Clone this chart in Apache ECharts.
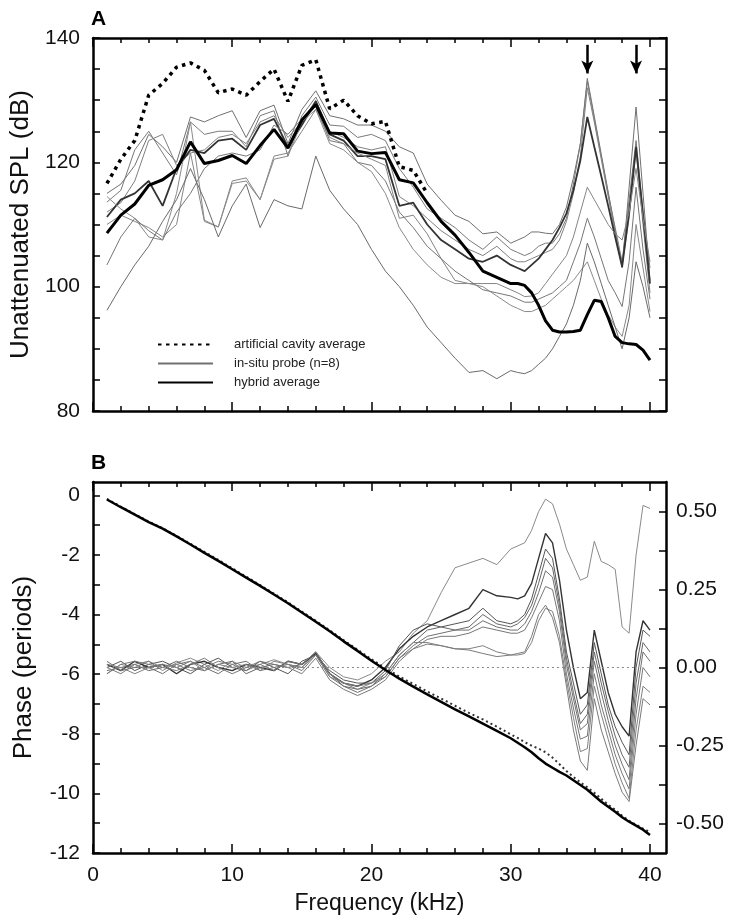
<!DOCTYPE html>
<html><head><meta charset="utf-8">
<script src="https://cdn.jsdelivr.net/npm/echarts@6/dist/echarts.min.js"></script>
<style>html,body{margin:0;padding:0;background:#fff}#c{width:731px;height:922px}</style>
</head><body><div id="c"></div>
<script>
// ---- frequency grid (kHz) ----
const freqKHz = [1,2,3,4,5,6,7,8,9,10,11,12,13,14,15,16,17,18,19,20,21,22,23,24,25,26,27,28,29,30,
  30.5,31,31.5,32,32.5,33,33.5,34,34.5,35,35.5,36,36.5,37,37.5,38,38.5,39,39.5,40];

// ---- Panel A: unattenuated SPL (dB) ----
const cavityAvgSPL = [116.6,120.5,123.5,130.8,132.7,135.3,136.0,134.8,131.2,131.8,130.8,133.0,135.0,129.8,135.6,136.5,128.6,130.0,127.5,126.2,126.6,119.3,118.7,115.0];
const hybridAvgSPL = [108.6,111.5,113.3,116.3,117.2,118.8,123.3,119.8,120.3,121.1,119.8,122.7,125.3,122.3,126.8,129.3,124.7,124.6,121.8,121.4,121.6,117.2,116.7,113.5,110.5,108.3,105.5,102.5,101.5,100.5,
  100.5,100.2,99.0,97.0,94.5,93.0,92.7,92.7,92.8,93.0,95.5,97.8,97.6,95.0,92.0,91.0,90.8,90.7,89.8,88.2];
const probe1SPL = [115,116.5,119.5,124.5,122.5,120,127.3,126.5,127.5,128.3,124,128.3,129.2,123,128.5,131.5,127.5,127,126,126,125,122.5,121.5,116.5,113.9,111.5,110.5,108.5,108.8,107,
  107.5,108.0,108.8,108.8,108.6,108.5,110.0,112.8,117.5,123.0,133.5,127.4,121.3,115.2,109.0,103.0,116.0,128.9,115.0,101.0];
const probe2SPL = [113.6,115.5,122,125,121.5,118,126.5,124.5,125,125,122.5,127.5,128.3,121,127.5,130.5,126,125.8,124,124.5,123.5,119,116,112.5,111,109.5,107.5,106,108,106,
  105.5,105,105.5,106.5,107,107,108.5,111,116.5,123,133,127,121,115,109.5,104,114,123.5,112,103];
const probe3SPL = [112,113.5,117,123.5,124.5,119.5,121.5,122,124,124.5,123,126.5,127.5,124,126.5,130,125,124,122.5,122,122.5,114.5,113,111,109,107.5,106,105,106.5,104.5,
  104,104,104.5,105,105.5,106,107.5,110.5,115,121,132,126.5,120.5,114.5,108.5,103.5,111,122,110,99];
const probe4SPL = [111.2,114,115,117,113,119,122,121.5,123.5,123.8,122,126,127,122.5,126,129.8,124.5,123.5,121,121,120.5,113,113.5,110,107.5,106,104.5,104,105,103.5,
  103,102.5,103.5,104.5,106,107.5,109.5,111.8,115.5,120.3,127.3,122.5,117.8,113,108,103.2,112,122.5,111.5,100.5];
const probe5SPL = [110,111.5,110.5,109.5,108,110,121.5,110.5,109.6,117,117.5,114,121,121.5,125,128.5,124,123,121.5,120.5,119.5,111,111.5,108.5,104.5,101,100.5,100.5,100.5,99.5,
  99,98.4,98.5,99,100.5,102,103.5,105,108,112,116,114,112,110,108.5,107.5,112,119,111,104];
const probe6SPL = [103.5,108,111,109,107.5,112,115,119,121,121.5,121,122,126,124.5,127,129,123.5,123,120,119.5,117,112,109.5,106.5,104.5,102.5,101,99.5,99,98.5,
  98,97.5,97.5,98,98.5,99,100,101,104,107,111,108,104.5,101,99,96.8,104,116,106,98];
const probe7SPL = [114.5,112.5,111,108,107.5,115,126.5,110.7,109.6,116.6,117,114,120.5,121,126.5,128.5,123,122,120,118.5,115,109.5,106,103.5,101.5,100.5,100.5,100,98.5,97,
  96.5,96,96,96.5,97,98,99,100,101,102.5,104,101,98,95.5,93.5,92,97,110,103,96];
const probe8SPL = [96.2,100,103.5,106.5,110.5,114,119,114,108,113,116.5,109.5,114,113,112.5,121,115.5,112.5,110,106,102.5,100,97,93.5,91,88.5,86.2,86.5,85.2,86.5,
  86.2,86,86.5,87.5,88.5,90,92,94,97,101,107,104,100.5,97,93.5,90,95,104,100,95];

// ---- Panel B: phase (periods, left axis) ----
const cavityAvgPhase = [-0.12,-0.38,-0.63,-0.88,-1.10,-1.36,-1.63,-1.90,-2.17,-2.45,-2.73,-3.01,-3.30,-3.59,-3.90,-4.21,-4.53,-4.86,-5.18,-5.50,-5.80,-6.08,-6.33,-6.58,-6.82,-7.06,-7.30,-7.52,-7.76,-8.02,
  -8.14,-8.28,-8.40,-8.50,-8.62,-8.80,-9.02,-9.25,-9.45,-9.63,-9.80,-9.98,-10.18,-10.38,-10.55,-10.75,-10.92,-11.05,-11.18,-11.30];
const hybridAvgPhase = [-0.14,-0.40,-0.65,-0.90,-1.12,-1.38,-1.65,-1.93,-2.20,-2.48,-2.76,-3.04,-3.33,-3.62,-3.93,-4.24,-4.56,-4.90,-5.22,-5.55,-5.86,-6.15,-6.42,-6.68,-6.93,-7.18,-7.42,-7.66,-7.90,-8.15,
  -8.30,-8.45,-8.62,-8.82,-9.00,-9.14,-9.28,-9.40,-9.56,-9.72,-9.88,-10.08,-10.28,-10.45,-10.62,-10.80,-10.95,-11.08,-11.22,-11.40];
// in-situ probe phase deviations (periods, right axis)
const probe1Dev = [-0.02,0.01,0.00,0.02,-0.01,0.015,0.03,0.01,-0.01,0.02,0.00,0.01,0.025,0.01,0.00,0.05,0.00,-0.03,-0.04,-0.02,0.02,0.05,0.11,0.15,0.24,0.32,0.335,0.35,0.33,0.38,
  0.39,0.40,0.44,0.50,0.54,0.525,0.46,0.38,0.33,0.28,0.29,0.405,0.34,0.33,0.315,0.13,0.11,0.36,0.52,0.51];
const probe2Dev = [0.01,-0.01,0.02,0.00,0.01,-0.02,0.01,0.02,0.00,-0.01,0.01,0.00,-0.01,0.02,0.01,0.045,-0.02,-0.05,-0.06,-0.04,0.00,0.06,0.10,0.13,0.15,0.17,0.19,0.25,0.23,0.225,
  0.22,0.23,0.27,0.35,0.43,0.40,0.28,0.12,0.00,-0.10,-0.08,0.12,0.02,-0.08,-0.15,-0.19,-0.22,0.05,0.15,0.12];
const probe3Dev = [0.00,0.02,-0.01,0.01,0.02,0.00,-0.02,0.01,0.03,0.00,-0.01,0.02,0.00,-0.02,0.02,0.04,-0.01,-0.04,-0.05,-0.05,-0.01,0.07,0.12,0.14,0.13,0.14,0.15,0.19,0.15,0.14,
  0.15,0.17,0.22,0.30,0.38,0.35,0.22,0.05,-0.05,-0.15,-0.12,0.08,-0.02,-0.12,-0.19,-0.24,-0.28,0.00,0.12,0.10];
const probe4Dev = [-0.01,0.00,0.01,-0.01,0.00,0.02,0.00,-0.01,0.01,0.02,-0.02,0.00,0.01,0.00,0.01,0.05,-0.02,-0.06,-0.07,-0.06,-0.02,0.04,0.08,0.12,0.13,0.12,0.13,0.17,0.14,0.13,
  0.14,0.16,0.20,0.27,0.35,0.32,0.20,0.03,-0.08,-0.18,-0.15,0.05,-0.05,-0.14,-0.22,-0.28,-0.32,-0.05,0.08,0.05];
const probe5Dev = [0.02,-0.01,0.00,0.00,-0.02,0.01,0.02,0.00,-0.02,0.01,0.02,-0.01,0.00,0.01,-0.01,0.04,-0.03,-0.06,-0.08,-0.06,-0.03,0.03,0.07,0.10,0.11,0.12,0.12,0.15,0.13,0.12,
  0.12,0.14,0.18,0.24,0.31,0.29,0.18,0.01,-0.10,-0.20,-0.18,0.02,-0.08,-0.17,-0.25,-0.31,-0.36,-0.10,0.05,0.02];
const probe6Dev = [-0.02,0.01,0.02,0.01,0.00,-0.01,0.01,0.03,0.00,-0.02,0.00,0.02,0.01,0.00,-0.02,0.03,-0.04,-0.07,-0.09,-0.07,-0.04,0.02,0.06,0.09,0.10,0.10,0.11,0.13,0.12,0.11,
  0.11,0.12,0.16,0.21,0.26,0.25,0.15,-0.02,-0.13,-0.23,-0.22,-0.02,-0.12,-0.20,-0.28,-0.34,-0.39,-0.15,0.00,-0.03];
const probe7Dev = [0.01,0.00,-0.02,0.00,0.01,0.00,0.02,-0.01,0.01,0.00,0.01,-0.01,0.02,0.01,0.00,0.04,-0.03,-0.05,-0.07,-0.05,-0.02,0.04,0.08,0.08,0.07,0.06,0.06,0.07,0.05,0.04,
  0.04,0.045,0.08,0.15,0.19,0.18,0.10,-0.04,-0.16,-0.27,-0.26,-0.06,-0.15,-0.23,-0.31,-0.37,-0.42,-0.20,-0.06,-0.08];
const probe8Dev = [0.00,-0.02,0.01,0.02,0.00,0.01,-0.01,0.00,0.02,0.01,-0.01,0.01,-0.01,0.02,0.01,0.05,-0.02,-0.05,-0.06,-0.05,-0.03,0.03,0.06,0.075,0.07,0.06,0.056,0.045,0.035,0.04,
  0.045,0.05,0.10,0.17,0.20,0.16,0.08,-0.06,-0.20,-0.30,-0.33,-0.10,-0.20,-0.27,-0.34,-0.40,-0.43,-0.25,-0.10,-0.12];

// ---- tick values / labels ----
const freqMinorTicks = [0,2,4,6,8,10,12,14,16,18,20,22,24,26,28,30,32,34,36,38,40];
const freqMajorTicks = [0,10,20,30,40];
const splTicks = [80,85,90,95,100,105,110,115,120,125,130,135,140];
const splLabels = [80,100,120,140];
const phaseTicks = [-12,-11,-10,-9,-8,-7,-6,-5,-4,-3,-2,-1,0];
const phaseLabels = [-12,-10,-8,-6,-4,-2,0];
const devTicks = [-0.5,-0.375,-0.25,-0.125,0,0.125,0.25,0.375,0.5];
const devLabels = [-0.5,-0.25,0,0.25,0.5];
const arrowFreqs = [35.5, 39.0];

const NAME_CAV = 'artificial cavity average';
const NAME_PROBE = 'in-situ probe (n=8)';
const NAME_HYB = 'hybrid average';
const FONT = '"Liberation Sans", Arial, Helvetica, sans-serif';

function pts(vals){ return vals.map((v,i)=>[freqKHz[i], v]); }

function xAxis(grid, pos, ticks, len, showLine, showLabels){
  return {
    type:'value', gridIndex:grid, position:pos, min:0, max:41.15,
    axisLine:{show:showLine, onZero:false, lineStyle:{color:'#000', width:2.5}},
    axisTick:{show:true, inside:true, length:len, customValues:ticks, lineStyle:{color:'#000', width:1.5}},
    axisLabel:{show:showLabels, customValues:freqMajorTicks, fontSize:21, color:'#111', fontFamily:FONT, margin:12},
    splitLine:{show:false},
    name: showLabels ? 'Frequency (kHz)' : '',
    nameLocation:'middle', nameGap:39,
    nameTextStyle:{fontSize:23, color:'#111', fontFamily:FONT}
  };
}
function yAxis(grid, pos, min, max, ticks, labels, fmt, name){
  return {
    type:'value', gridIndex:grid, position:pos, min:min, max:max,
    axisLine:{show:true, onZero:false, lineStyle:{color:'#000', width:2.5}},
    axisTick:{show:true, inside:true, length:7, customValues:ticks, lineStyle:{color:'#000', width:1.5}},
    axisLabel:{show:!!labels, customValues:labels||[], fontSize:21, color:'#111', fontFamily:FONT, margin:pos==='left'?13:10,
      formatter: fmt || (v=>String(v))},
    splitLine:{show:false},
    name: name||'', nameLocation:'middle', nameGap:56, nameRotate:90,
    nameTextStyle:{fontSize:26, color:'#111', fontFamily:FONT}
  };
}

const probesA = [probe1SPL,probe2SPL,probe3SPL,probe4SPL,probe5SPL,probe6SPL,probe7SPL,probe8SPL];
const probesB = [probe1Dev,probe2Dev,probe3Dev,probe4Dev,probe5Dev,probe6Dev,probe7Dev,probe8Dev];
const probeColors = ['#707070','#7a7a7a','#808080','#333333','#858585','#777777','#8a8a8a','#6a6a6a'];
const probeDevColors = ['#8a8a8a','#333333','#555555','#666666','#707070','#777777','#808080','#7a7a7a'];

const series = [];
probesA.forEach((p,i)=>{
  series.push({type:'line', name:NAME_PROBE, xAxisIndex:0, yAxisIndex:0, data:pts(p), symbol:'none', silent:true,
    lineStyle:{color:probeColors[i], width: i===3 ? 1.8 : 1}, itemStyle:{color:probeColors[i]}, z:2});
});
series.push({type:'line', name:NAME_CAV, xAxisIndex:0, yAxisIndex:0, data:pts(cavityAvgSPL), symbol:'none', silent:true,
  lineStyle:{color:'#000', width:3.5, type:[3.5,4.5]}, itemStyle:{color:'#000'}, z:4});
series.push({type:'line', name:NAME_HYB, xAxisIndex:0, yAxisIndex:0, data:pts(hybridAvgSPL), symbol:'none', silent:true,
  lineStyle:{color:'#000', width:3}, itemStyle:{color:'#000'}, z:5,
  markLine:{silent:true, symbol:['none','arrow'], symbolSize:[9,13], animation:false,
    label:{show:false}, lineStyle:{color:'#000', width:2.5, type:'solid'},
    data: arrowFreqs.map(f=>[{coord:[f,138.9]},{coord:[f,134.3]}])}
});
probesB.forEach((p,i)=>{
  const s = {type:'line', name:NAME_PROBE, xAxisIndex:4, yAxisIndex:3, data:pts(p), symbol:'none', silent:true,
    lineStyle:{color:probeDevColors[i], width: i===1 ? 1.4 : 1}, itemStyle:{color:probeDevColors[i]}, z:2};
  if(i===0){
    s.markLine = {silent:true, symbol:['none','none'], animation:false, label:{show:false},
      lineStyle:{color:'#888', width:1.2, type:[2,3]},
      data:[[{coord:[1,0]},{coord:[39,0]}]]};
  }
  series.push(s);
});
series.push({type:'line', name:NAME_CAV, xAxisIndex:4, yAxisIndex:2, data:pts(cavityAvgPhase), symbol:'none', silent:true,
  lineStyle:{color:'#333', width:2, type:[2,3]}, itemStyle:{color:'#000'}, z:4});
series.push({type:'line', name:NAME_HYB, xAxisIndex:4, yAxisIndex:2, data:pts(hybridAvgPhase), symbol:'none', silent:true,
  lineStyle:{color:'#000', width:2.5}, itemStyle:{color:'#000'}, z:5});

const chart = echarts.init(document.getElementById('c'), null, {renderer:'canvas'});
chart.setOption({
  animation:false,
  backgroundColor:'#fff',
  textStyle:{fontFamily:FONT},
  grid:[
    {left:93, top:38, right:65, bottom:511, containLabel:false},
    {left:93, top:482, right:65, bottom:69, containLabel:false}
  ],
  xAxis:[
    xAxis(0,'bottom',freqMajorTicks,9,true,false),
    xAxis(0,'bottom',freqMinorTicks,5,false,false),
    xAxis(0,'top',freqMajorTicks,9,true,false),
    xAxis(0,'top',freqMinorTicks,5,false,false),
    xAxis(1,'bottom',freqMajorTicks,9,true,true),
    xAxis(1,'bottom',freqMinorTicks,5,false,false),
    xAxis(1,'top',freqMajorTicks,9,true,false),
    xAxis(1,'top',freqMinorTicks,5,false,false)
  ],
  yAxis:[
    yAxis(0,'left',80,140,splTicks,splLabels,null,'Unattenuated SPL (dB)'),
    yAxis(0,'right',80,140,splTicks,null,null,''),
    yAxis(1,'left',-12,0.446,phaseTicks,phaseLabels,null,'Phase (periods)'),
    yAxis(1,'right',-0.595,0.595,devTicks,devLabels,v=>v.toFixed(2),'')
  ],
  legend:{
    data:[NAME_CAV, NAME_PROBE, NAME_HYB],
    orient:'vertical', left:152, top:333, itemWidth:55, itemHeight:12, itemGap:6,
    selectedMode:false,
    itemStyle:{opacity:0},
    textStyle:{fontSize:13, color:'#222', fontFamily:FONT, padding:[0,0,0,16]}
  },
  graphic:[
    {type:'text', left:91, top:9, style:{text:'A', font:'bold 21px "Liberation Sans", Arial, sans-serif', fill:'#000'}},
    {type:'text', left:91, top:453, style:{text:'B', font:'bold 21px "Liberation Sans", Arial, sans-serif', fill:'#000'}}
  ],
  series: series
});
</script>
</body></html>
